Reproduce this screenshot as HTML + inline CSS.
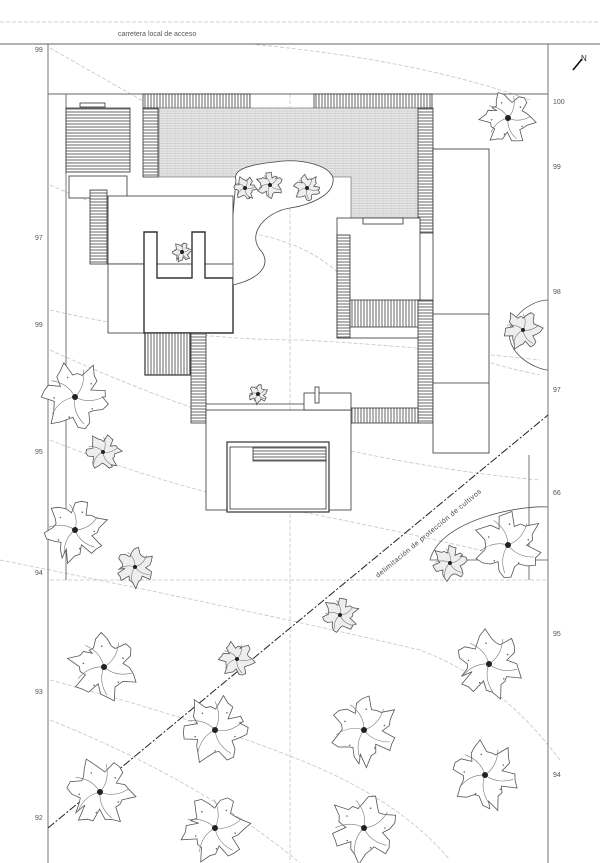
<!DOCTYPE html>
<html><head><meta charset="utf-8">
<style>html,body{margin:0;padding:0;background:#fff;}svg{display:block;font-family:"Liberation Sans",sans-serif;}</style>
</head><body>
<svg id="s" width="610" height="863" viewBox="0 0 610 863" xmlns="http://www.w3.org/2000/svg">
<defs>
<pattern id="vh" width="3" height="3" patternUnits="userSpaceOnUse"><rect width="3" height="3" fill="#fff"/><line x1="1" y1="0" x2="1" y2="3" stroke="#555" stroke-width="0.9"/></pattern>
<pattern id="hh" width="3" height="3" patternUnits="userSpaceOnUse"><rect width="3" height="3" fill="#fff"/><line x1="0" y1="1" x2="3" y2="1" stroke="#555" stroke-width="0.9"/></pattern>
<pattern id="gr" width="8" height="2.5" patternUnits="userSpaceOnUse"><rect width="8" height="2.5" fill="#e6e6e6"/><line x1="0" y1="1" x2="8" y2="1" stroke="#c4c4c4" stroke-width="0.6"/><line x1="7.5" y1="0" x2="7.5" y2="2.5" stroke="#d0d0d0" stroke-width="0.5"/></pattern>
</defs>
<g fill="none" stroke="#c4c4c4" stroke-width="0.8" stroke-dasharray="4 2">
<line x1="0" y1="22" x2="600" y2="22"/>
<path d="M50,48 L150,105"/><path d="M250,44 Q420,60 530,100"/>
<path d="M50,185 Q150,230 260,235 Q330,250 360,300 Q420,350 540,375"/>
<path d="M50,310 Q180,340 300,340 Q400,345 540,360"/>
<path d="M50,350 Q160,400 260,430 Q420,470 540,480"/>
<path d="M50,440 Q150,480 240,500 Q400,530 520,560"/>
<path d="M50,580 L548,580"/>
<path d="M0,560 Q250,610 420,650 Q500,680 560,760"/>
<path d="M50,680 Q200,720 300,760 Q400,800 450,860"/>
<path d="M50,720 Q200,780 300,863"/>
<path d="M290,94 L290,863"/>
</g>
<g stroke="#666" stroke-width="0.9" fill="none">
<line x1="0" y1="44" x2="600" y2="44"/>
<line x1="48" y1="44" x2="48" y2="863"/>
<line x1="548" y1="44" x2="548" y2="863"/>
<line x1="48" y1="94" x2="548" y2="94"/>
<line x1="66" y1="94" x2="66" y2="580"/>
<line x1="529" y1="455" x2="529" y2="580"/>
</g>
<g stroke="#333" stroke-width="0.8">
<rect x="143" y="94" width="107" height="14" fill="url(#vh)"/>
<rect x="314" y="94" width="118" height="14" fill="url(#vh)"/>
<path d="M159,108 H420 V218 H351 V177 H159 Z" fill="url(#gr)" stroke="#888"/>
<rect x="66" y="108" width="64" height="64" fill="url(#hh)"/>
<rect x="143" y="108" width="15" height="69" fill="url(#hh)"/>
<rect x="418" y="108" width="15" height="125" fill="url(#hh)"/>
<rect x="80" y="103" width="25" height="4" fill="#fff"/>
<rect x="69" y="176" width="58" height="22" fill="#fff"/>
<rect x="90" y="190" width="17" height="74" fill="url(#hh)"/>
<rect x="108" y="196" width="125" height="68" fill="#fff"/>
<rect x="108" y="264" width="36" height="69" fill="#fff"/>
<path d="M144,232 H157 V278 H192 V232 H205 V278 H233 V333 H144 Z" fill="#fff" stroke-width="1.4"/>
<rect x="145" y="333" width="45" height="42" fill="url(#vh)" stroke-width="1.2"/>
<rect x="191" y="333" width="15" height="90" fill="url(#hh)"/>
<rect x="337" y="218" width="83" height="120" fill="#fff"/>
<rect x="337" y="235" width="13" height="103" fill="url(#hh)"/>
<rect x="350" y="300" width="70" height="27" fill="url(#vh)"/>
<rect x="363" y="218" width="40" height="6" fill="#fff"/>
<rect x="418" y="300" width="15" height="123" fill="url(#hh)"/>
<rect x="350" y="408" width="68" height="15" fill="url(#vh)"/>
<rect x="433" y="149" width="56" height="304" fill="#fff"/>
<line x1="433" y1="314" x2="489" y2="314"/><line x1="433" y1="383" x2="489" y2="383"/>
<rect x="206" y="410" width="145" height="100" fill="#fff"/>
<line x1="206" y1="404" x2="351" y2="404"/>
<rect x="304" y="393" width="47" height="17" fill="#fff"/><rect x="315" y="387" width="4" height="16" fill="#fff"/>
<rect x="227" y="442" width="102" height="70" fill="#fff" stroke-width="1.2"/>
<rect x="230" y="447" width="96" height="62" fill="none"/>
<rect x="253" y="447" width="73" height="14" fill="url(#hh)"/>
<path d="M236,180 C232,168 255,164 275,162 C300,158 330,165 333,178 C335,195 310,205 290,208 C265,212 245,235 262,252 C272,268 255,280 233,285 L233,215 Z" fill="#fff" stroke="#444"/>
<path d="M548,300 C530,300 505,320 510,340 C515,360 540,370 548,370" fill="none" stroke="#555"/>
<path d="M548,507 C520,505 440,520 430,560 L548,560" fill="none" stroke="#555"/>
</g>
<line x1="48" y1="828" x2="548" y2="415" stroke="#222" stroke-width="1" stroke-dasharray="8 2 2 2"/>
<text transform="translate(378,578) rotate(-39.6)" font-size="7" fill="#444" letter-spacing="0.5">delimitación de  protección de cultivos</text>
<g id="trees"></g>
<g font-size="7" fill="#555">
<text x="118" y="36">carretera  local  de  acceso</text>
<text x="35" y="52">99</text><text x="35" y="240">97</text><text x="35" y="327">99</text>
<text x="35" y="454">95</text><text x="35" y="575">94</text><text x="35" y="694">93</text><text x="35" y="820">92</text>
<text x="553" y="104">100</text><text x="553" y="169">99</text><text x="553" y="294">98</text>
<text x="553" y="392">97</text><text x="553" y="495">66</text><text x="553" y="636">95</text><text x="553" y="777">94</text>
<text x="581" y="61" font-size="8" fill="#222">N</text>
</g>
<line x1="573" y1="70" x2="582" y2="59" stroke="#111" stroke-width="1.6"/>
</svg>
<script>
var T=[[75,397,38,1],[103,452,20,0],[75,530,35,1],[135,567,22,0],[104,667,38,1],[237,659,20,0],[215,730,38,1],[340,615,20,0],[364,730,38,1],[489,664,38,1],[508,118,30,1],[523,330,22,0],[450,563,20,0],[508,545,38,1],[485,775,38,1],[100,792,38,1],[215,828,38,1],[364,828,38,1],[270,185,15,0],[307,188,15,0],[245,188,13,0],[182,252,11,0],[258,394,11,0]];
var g=document.getElementById('trees'),h='';
T.forEach(function(t,k){var cx=t[0],cy=t[1],r=t[2],n=30,d='';
for(var i=0;i<=n;i++){var a=i/n*6.283+k,rr=r*(0.72+0.18*Math.sin(i*1.3+k)+0.1*Math.sin(i*3.1));
d+=(i?'L':'M')+(cx+rr*Math.cos(a)).toFixed(1)+','+(cy+rr*Math.sin(a)).toFixed(1);}
h+='<path d="'+d+'Z" fill="'+(t[3]?'#fff':'#eee')+'" stroke="#555" stroke-width="0.8"/>';
for(var j=0;j<5;j++){var a=j*1.25+k,x2=cx+r*0.75*Math.cos(a),y2=cy+r*0.75*Math.sin(a);
h+='<path d="M'+cx+','+cy+' Q'+(cx+r*0.4*Math.cos(a+0.5)).toFixed(1)+','+(cy+r*0.4*Math.sin(a+0.5)).toFixed(1)+' '+x2.toFixed(1)+','+y2.toFixed(1)+'" fill="none" stroke="#777" stroke-width="0.6"/>';
if(t[3])h+='<circle cx="'+(cx+r*0.55*Math.cos(a+0.6)).toFixed(1)+'" cy="'+(cy+r*0.55*Math.sin(a+0.6)).toFixed(1)+'" r="0.8" fill="#666"/>';}
h+='<circle cx="'+cx+'" cy="'+cy+'" r="'+(t[3]?3:2)+'" fill="#222"/>';});
g.innerHTML=h;
</script>
</body></html>
